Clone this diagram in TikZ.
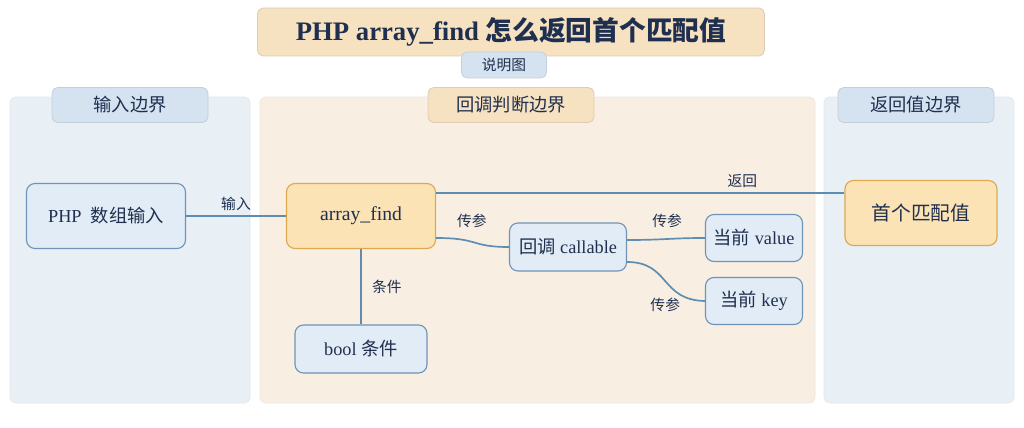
\documentclass[tikz,border=0pt]{standalone}
\usepackage{fontspec}
\setmainfont{Liberation Serif}
\newfontfamily\cjk{Noto Sans CJK SC}
\definecolor{navy}{HTML}{1F2F4F}
\definecolor{wire}{HTML}{5E8CB2}
\definecolor{bluefill}{HTML}{E2ECF6}
\definecolor{blueline}{HTML}{6F93B8}
\definecolor{orangefill}{HTML}{FBE3B6}
\definecolor{orangeline}{HTML}{DDA850}
\definecolor{leftpanel}{HTML}{E8EFF5}
\definecolor{midpanel}{HTML}{F8EFE2}
\definecolor{bluetag}{HTML}{D5E3F0}
\definecolor{orangetag}{HTML}{F6E1C0}
\begin{document}
\begin{tikzpicture}[x=0.025cm,y=-0.025cm,thick,
  panel/.style={draw=#1!80!gray!60,fill=#1,rounded corners=4pt,line width=0.6pt},
  tag/.style={fill=#1,draw=#1!80!gray,rounded corners=4pt,line width=0.6pt,
    text=navy,font=\cjk\fontsize{13}{15}\selectfont,inner sep=0pt},
  blue node/.style={fill=bluefill,draw=blueline,rounded corners=6pt,text=navy,
    font=\fontsize{13}{15}\selectfont,inner sep=0pt},
  orange node/.style={fill=orangefill,draw=orangeline,rounded corners=6pt,text=navy,
    font=\fontsize{14}{16}\selectfont,inner sep=0pt},
  wire label/.style={text=navy,font=\cjk\fontsize{10.5}{12}\selectfont}]
\useasboundingbox[fill=white] (0,0) rectangle (1024,427);
% title
\node[tag=orangetag,minimum width=507*0.025cm,minimum height=48*0.025cm,
  font=\bfseries\fontsize{19}{22}\selectfont] (title) at (511,32) {PHP array\_find {\cjk 怎么返回首个匹配值}};
\node[tag=bluetag,minimum width=85*0.025cm,minimum height=26*0.025cm,
  font=\cjk\fontsize{10.5}{12}\selectfont] (legend) at (504,65) {说明图};
% panels
\path[panel=leftpanel] (10,97) rectangle (250,403);
\path[panel=midpanel] (260,97) rectangle (815,403);
\path[panel=leftpanel] (824,97) rectangle (1014,403);
\node[tag=bluetag,minimum width=156*0.025cm,minimum height=35*0.025cm] (intag) at (130,105) {输入边界};
\node[tag=orangetag,minimum width=166*0.025cm,minimum height=35*0.025cm] (cbtag) at (511,105) {回调判断边界};
\node[tag=bluetag,minimum width=156*0.025cm,minimum height=35*0.025cm] (outtag) at (916,105) {返回值边界};
% nodes
\node[blue node,minimum width=159*0.025cm,minimum height=65*0.025cm] (input) at (106,216) {PHP\ \ {\cjk 数组输入}};
\node[orange node,minimum width=149*0.025cm,minimum height=65*0.025cm] (find) at (361,216) {array\_find};
\node[blue node,minimum width=117*0.025cm,minimum height=48*0.025cm] (callable) at (568,247) {{\cjk 回调} callable};
\node[blue node,minimum width=97*0.025cm,minimum height=47*0.025cm] (value) at (754,238) {{\cjk 当前} value};
\node[blue node,minimum width=97*0.025cm,minimum height=47*0.025cm] (key) at (754,301) {{\cjk 当前} key};
\node[blue node,minimum width=132*0.025cm,minimum height=48*0.025cm] (cond) at (361,349) {bool {\cjk 条件}};
\node[orange node,minimum width=152*0.025cm,minimum height=65*0.025cm,font=\cjk\fontsize{14}{16}\selectfont] (first) at (921,213) {首个匹配值};
% wires
\begin{scope}[wire,line width=1.2pt]
\draw (input.east) -- node[wire label,above] {输入} (find.west);
\draw (find.east |- 0,193) -- node[wire label,above,pos=0.75] {返回} (first.west |- 0,193);
\draw (find.east |- 0,238) .. controls (480,238) and (470,247) .. node[wire label,above,pos=0.45,yshift=6pt] {传参} (callable.west);
\draw (callable.east |- 0,240) .. controls (665,240) and (670,238) .. node[wire label,above,yshift=4pt] {传参} (value.west);
\draw (callable.east |- 0,262) .. controls (670,262) and (660,300) .. node[wire label,below,yshift=-8pt] {传参} (key.west);
\draw (find.south) -- node[wire label,right,xshift=4pt] {条件} (cond.north);
\end{scope}
\end{tikzpicture}
\end{document}
